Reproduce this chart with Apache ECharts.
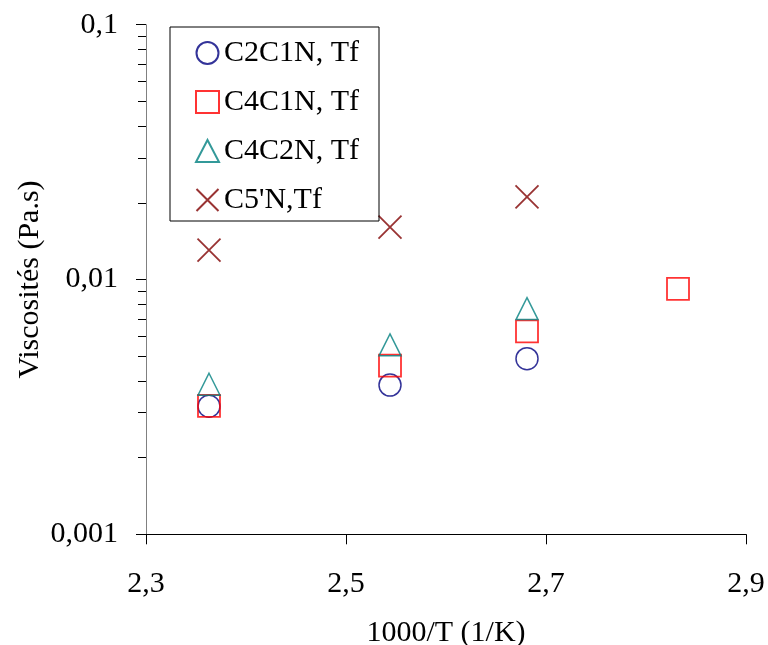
<!DOCTYPE html>
<html>
<head>
<meta charset="utf-8">
<script src="https://cdn.jsdelivr.net/npm/echarts@6/dist/echarts.min.js"></script>
<style>html,body{margin:0;padding:0;background:#fff}#c{width:768px;height:645px}</style>
</head>
<body>
<div id="c"></div>
<script>
// Data
const xC2C1N = [2.363, 2.544, 2.681];
const yC2C1N = [0.00318, 0.00385, 0.00489];
const xC4C1N = [2.363, 2.544, 2.681, 2.832];
const yC4C1N = [0.00319, 0.00459, 0.00626, 0.00919];
const xC4C2N = [2.363, 2.544, 2.681];
const yC4C2N = [0.00388, 0.00554, 0.00769];
const xC5N = [2.363, 2.544, 2.681];
const yC5N = [0.01303, 0.01604, 0.02110];
const seriesNames = ['C2C1N, Tf', 'C4C1N, Tf', 'C4C2N, Tf', "C5'N,Tf"];
const xTicks = [2.3, 2.5, 2.7, 2.9];
const xTickLabels = ['2,3', '2,5', '2,7', '2,9'];
const yTicks = [0.001, 0.01, 0.1];
const yTickLabels = ['0,001', '0,01', '0,1'];
const yMinorTicks = [0.002,0.003,0.004,0.005,0.006,0.007,0.008,0.009,0.02,0.03,0.04,0.05,0.06,0.07,0.08,0.09];
const xTitle = '1000/T (1/K)';
const yTitle = 'Viscosités (Pa.s)';

const zip = (a, b) => a.map((v, i) => [v, b[i]]);
const font = '"Liberation Serif", "Times New Roman", serif';
const fs = 30;

function yLabel(v) {
  for (let i = 0; i < yTicks.length; i++) if (Math.abs(Math.log10(v) - Math.log10(yTicks[i])) < 1e-6) return yTickLabels[i];
  return '';
}
function xLabel(v) {
  for (let i = 0; i < xTicks.length; i++) if (Math.abs(v - xTicks[i]) < 1e-6) return xTickLabels[i];
  return '';
}

const chart = echarts.init(document.getElementById('c'), null, {renderer: 'canvas'});
chart.setOption({
  animation: false,
  backgroundColor: '#fff',
  grid: {left: 146, right: 22, top: 24.7, bottom: 110.7, containLabel: false, outerBoundsMode: 'none'},
  legend: {
    orient: 'vertical',
    left: 170, top: 27,
    padding: [11, 20, 6, 25],
    borderColor: '#000', borderWidth: 1,
    itemWidth: 23, itemHeight: 22, itemGap: 19,
    textStyle: {fontFamily: font, fontSize: fs, color: '#000', lineHeight: 30},
    data: seriesNames
  },
  xAxis: {
    type: 'value', min: 2.3, max: 2.9,
    axisLine: {onZero: false, lineStyle: {color: '#000', width: 1}},
    axisTick: {show: true, length: 10, customValues: xTicks, lineStyle: {color: '#000'}},
    axisLabel: {customValues: xTicks, formatter: xLabel, fontFamily: font, fontSize: fs, color: '#000', margin: 35},
    splitLine: {show: false},
    name: xTitle, nameLocation: 'middle', nameGap: 84, nameMoveOverlap: false,
    nameTextStyle: {fontFamily: font, fontSize: fs, color: '#000'}
  },
  yAxis: [{
    type: 'log', logBase: 10, min: 0.001, max: 0.1,
    axisLine: {show: true, lineStyle: {color: '#808080', width: 1}},
    axisTick: {show: true, length: 10, customValues: yTicks, lineStyle: {color: '#000'}},
    axisLabel: {customValues: yTicks, formatter: yLabel, fontFamily: font, fontSize: fs, color: '#000', margin: 28},
    splitLine: {show: false},
    name: yTitle, nameLocation: 'middle', nameGap: 101, nameRotate: 90, nameMoveOverlap: false,
    nameTextStyle: {fontFamily: font, fontSize: fs, color: '#000'}
  }, {
    type: 'log', logBase: 10, min: 0.001, max: 0.1, position: 'left', offset: 0,
    axisLine: {show: false},
    axisTick: {show: true, length: 8, customValues: yMinorTicks, lineStyle: {color: '#000'}},
    axisLabel: {show: false},
    splitLine: {show: false}
  }],
  series: [
    {name: seriesNames[0], type: 'scatter', data: zip(xC2C1N, yC2C1N), symbol: 'circle', symbolSize: 22,
     itemStyle: {color: 'rgba(0,0,0,0)', borderColor: '#000080', borderWidth: 1.5}},
    {name: seriesNames[1], type: 'scatter', data: zip(xC4C1N, yC4C1N), symbol: 'rect', symbolSize: 22,
     itemStyle: {color: 'rgba(0,0,0,0)', borderColor: '#ff0000', borderWidth: 1.8}},
    {name: seriesNames[2], type: 'scatter', data: zip(xC4C2N, yC4C2N), symbol: 'triangle', symbolSize: [22, 22],
     itemStyle: {color: 'rgba(0,0,0,0)', borderColor: '#008080', borderWidth: 1.5}},
    {name: seriesNames[3], type: 'scatter', data: zip(xC5N, yC5N), symbol: 'path://M0,0L10,10M10,0L0,10', symbolSize: 23,
     itemStyle: {color: 'rgba(0,0,0,0)', borderColor: '#800000', borderWidth: 1.8}}
  ]
});
</script>
</body>
</html>
